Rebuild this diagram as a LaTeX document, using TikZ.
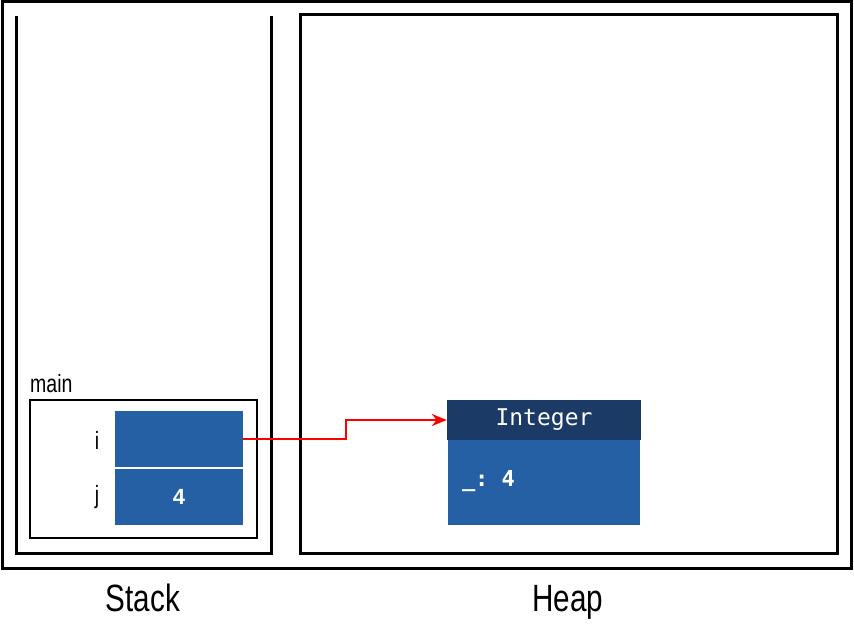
\documentclass[tikz,border=0pt]{standalone}
\usepackage{fontspec}
\setmainfont{Liberation Sans}
\newfontfamily\narrowsans[FakeStretch=0.78]{Liberation Sans}
\setmonofont{DejaVu Sans Mono}
\usetikzlibrary{arrows.meta}
\definecolor{cellblue}{HTML}{2660A4}
\definecolor{hdrblue}{HTML}{1B3A66}
\begin{document}
\begin{tikzpicture}[x=1pt,y=-1pt,
    frame/.style={line width=3pt,black},
    cell/.style={fill=cellblue,text=white,minimum width=128pt,minimum height=56pt,inner sep=0pt,
      font=\bfseries\fontsize{22}{22}\selectfont},
    varname/.style={font=\narrowsans\fontsize{25}{25}\selectfont,inner sep=0pt},
    title/.style={font=\narrowsans\fontsize{38}{38}\selectfont,inner sep=0pt,anchor=base},
    ptr/.style={red,line width=2.2pt,-{Stealth[length=15pt,width=12pt]}}]
    \useasboundingbox (0,0) rectangle (854,642);
    \draw[frame] (2,2) rectangle (851,568);
    % stack
    \draw[frame] (16,16) -- (16,553) -- (271,553) -- (271,16);
    \node[title] (stack) at (143,611) {Stack};
    % heap
    \draw[frame] (300,15) rectangle (837,553);
    \node[title] (heap) at (568,611) {Heap};
    % main frame
    \draw[frame,line width=2.5pt] (30,400) rectangle (257,538);
    \node[varname,anchor=south west] (main) at (30,393) {main};
    \node[cell] (icell) at (179,439) {};
    \node[cell] (jcell) at (179,497) {4};
    \node[varname] (iname) at (97,440) {i};
    \node[varname] (jname) at (97,497) {j};
    % heap object
    \node[fill=hdrblue,text=white,minimum width=194pt,minimum height=40pt,inner sep=0pt,
      font=\ttfamily\fontsize{23}{23}\selectfont] (hdr) at (544,420) {Integer};
    \node[fill=cellblue,minimum width=192pt,minimum height=85pt,inner sep=0pt,anchor=north]
      (body) at (hdr.south) {};
    \node[text=white,anchor=west,inner sep=0pt,font=\ttfamily\bfseries\fontsize{22}{22}\selectfont]
      (field) at ([xshift=14pt,yshift=2pt]body.west) {\_: 4};
    \draw[ptr] (icell.east) -- ++(103,0) |- (hdr.west);
\end{tikzpicture}
\end{document}
